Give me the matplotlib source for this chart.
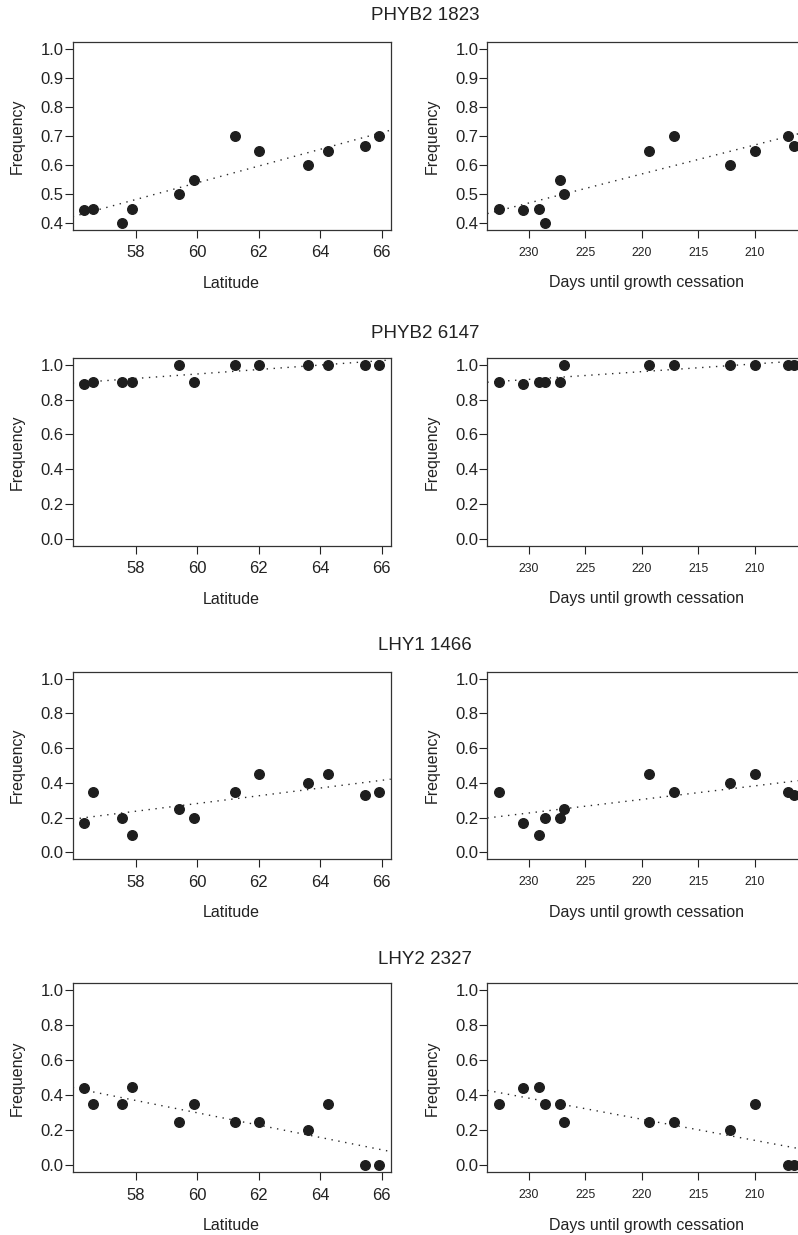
import numpy as np
import matplotlib
matplotlib.use('Agg')
import matplotlib.pyplot as plt

plt.rcParams['font.family'] = ['Liberation Sans', 'DejaVu Sans']

# populations, ordered by latitude
lat = [56.34, 56.61, 57.56, 57.90, 59.40, 59.90, 61.22, 62.02, 63.62, 64.26, 65.45, 65.91]
days = [230.53, 232.66, 228.58, 229.08, 226.89, 227.28, 217.10, 219.38, 212.19, 209.94, 206.54, 207.01]

# allele frequency per marker
phyb2_1823 = [0.444, 0.45, 0.40, 0.45, 0.50, 0.55, 0.70, 0.65, 0.60, 0.65, 0.667, 0.70]
phyb2_6147 = [0.889, 0.90, 0.90, 0.90, 1.0, 0.90, 1.0, 1.0, 1.0, 1.0, 1.0, 1.0]
lhy1_1466 = [0.167, 0.35, 0.20, 0.10, 0.25, 0.20, 0.35, 0.45, 0.40, 0.45, 0.333, 0.35]
lhy2_2327 = [0.444, 0.35, 0.35, 0.45, 0.25, 0.35, 0.25, 0.25, 0.20, 0.35, 0.0, 0.0]

markers = ['PHYB2 1823', 'PHYB2 6147', 'LHY1 1466', 'LHY2 2327']
freqs = [phyb2_1823, phyb2_6147, lhy1_1466, lhy2_2327]
ylims = [(0.4, 1.0), (0.0, 1.0), (0.0, 1.0), (0.0, 1.0)]
ysteps = [0.1, 0.2, 0.2, 0.2]

lat_ticks = [58, 60, 62, 64, 66]
day_ticks = [230, 225, 220, 215, 210]

W, H = 798, 1235
fig = plt.figure(figsize=(W / 100, H / 100), dpi=100)

# panel boxes in pixels: (top, bottom)
rows = [(42.3, 230.0), (357.7, 546.0), (671.7, 859.3), (983.3, 1172.3)]
title_y = [15, 333, 646, 960]
lefts = [72.7, 487.3]
pw = 318.0

ink = '#1e1e1e'


def r_range(lo, hi):
    d = (hi - lo) * 0.04
    return lo - d, hi + d


def panel(ax, x, y, xlim, ticks, xlabel, ylim, ystep, tick_fs, tick_pad):
    ax.set_xlim(*xlim)
    ax.set_ylim(*r_range(*ylim))
    b, a = np.polyfit(x, y, 1)
    xx = np.array(xlim)
    ax.plot(xx, a + b * xx, color='#2a2a2a', lw=1.0, linestyle=(0, (1, 4)))
    ax.plot(x, y, 'o', color=ink, ms=6.9, mec=ink)
    ax.set_xticks(ticks)
    ax.set_yticks(np.round(np.arange(ylim[0], ylim[1] + 1e-9, ystep), 1))
    ax.yaxis.set_major_formatter(matplotlib.ticker.FormatStrFormatter('%.1f'))
    ax.tick_params(axis='x', length=6, width=0.8, pad=tick_pad, labelsize=tick_fs, colors='#222222')
    ax.tick_params(axis='y', length=6, width=0.8, pad=0.5, labelsize=12, colors='#222222')
    for s in ax.spines.values():
        s.set_linewidth(0.9)
        s.set_color('#333333')
    ax.set_xlabel(xlabel, fontsize=11.5, va='center', color='#222222')
    ax.set_ylabel('Frequency', fontsize=11.5, va='center', color='#222222')
    hpx = ax.get_position().height * H
    ax.xaxis.set_label_coords(0.5, -53 / hpx)
    ax.yaxis.set_label_coords(-55 / pw, 0.5)


for i, (name, f) in enumerate(zip(markers, freqs)):
    top, bot = rows[i]
    h = (bot - top) / H
    y0 = 1 - bot / H
    ax1 = fig.add_axes([lefts[0] / W, y0, pw / W, h])
    panel(ax1, lat, f, r_range(min(lat), max(lat)), lat_ticks, 'Latitude',
          ylims[i], ysteps[i], 12, 5)
    ax2 = fig.add_axes([lefts[1] / W, y0, pw / W, h])
    lo, hi = r_range(min(days), max(days))
    panel(ax2, days, f, (hi, lo), day_ticks, 'Days until growth cessation',
          ylims[i], ysteps[i], 8.8, 6.3)
    fig.text(425 / W, 1 - title_y[i] / H, name, ha='center', va='center',
             fontsize=13.5, color='#222222')

fig.savefig('out.png', dpi=100)
